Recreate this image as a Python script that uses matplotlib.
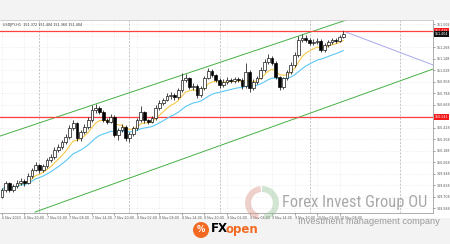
import matplotlib
matplotlib.use("Agg")
import matplotlib.pyplot as plt
from matplotlib.patches import Rectangle, Wedge, Circle
from matplotlib.transforms import IdentityTransform
from matplotlib import font_manager
import numpy as np
import pandas as pd

# ---------------- data ----------------
opens = [149.703, 149.776, 149.849, 149.776, 149.818, 149.849, 149.870, 149.849, 149.922, 149.984,
         150.037, 149.984, 150.026, 150.089, 150.120, 150.193, 150.224, 150.277, 150.329, 150.423,
         150.475, 150.318, 150.381, 150.433, 150.506, 150.611, 150.631, 150.590, 150.506, 150.485,
         150.538, 150.350, 150.402, 150.433, 150.318, 150.360, 150.423, 150.506, 150.590, 150.506,
         150.485, 150.527, 150.631, 150.684, 150.715, 150.757, 150.767, 150.746, 150.819, 150.924,
         150.944, 150.851, 150.861, 150.767, 150.840, 150.944, 151.018, 150.976, 150.924, 150.871,
         150.903, 150.924, 150.913, 150.934, 150.924, 150.861, 151.007, 150.840, 150.903, 150.944,
         151.028, 151.111, 151.153, 151.101, 150.955, 150.851, 150.944, 151.007, 151.080, 151.184,
         151.341, 151.362, 151.341, 151.310, 151.320, 151.331, 151.237, 151.289, 151.320, 151.341,
         151.331, 151.372]
closes = [149.776, 149.849, 149.776, 149.818, 149.849, 149.870, 149.849, 149.922, 149.984, 150.037,
          149.984, 150.026, 150.089, 150.120, 150.193, 150.224, 150.277, 150.329, 150.423, 150.475,
          150.318, 150.381, 150.433, 150.506, 150.611, 150.631, 150.590, 150.506, 150.485, 150.538,
          150.350, 150.402, 150.433, 150.318, 150.360, 150.423, 150.506, 150.590, 150.506, 150.485,
          150.527, 150.631, 150.684, 150.715, 150.757, 150.767, 150.746, 150.819, 150.924, 150.944,
          150.851, 150.861, 150.767, 150.840, 150.944, 151.018, 150.976, 150.924, 150.871, 150.903,
          150.924, 150.913, 150.934, 150.924, 150.861, 151.007, 150.840, 150.903, 150.944, 151.028,
          151.111, 151.153, 151.101, 150.955, 150.851, 150.944, 151.007, 151.080, 151.184, 151.341,
          151.362, 151.341, 151.310, 151.320, 151.331, 151.237, 151.289, 151.320, 151.341, 151.331,
          151.372, 151.404]
highs = [149.800, 149.870, 149.860, 149.840, 149.880, 149.900, 149.890, 149.950, 150.010, 150.070,
         150.050, 150.050, 150.110, 150.150, 150.220, 150.260, 150.300, 150.360, 150.450, 150.510,
         150.490, 150.400, 150.460, 150.540, 150.660, 150.670, 150.650, 150.610, 150.530, 150.570,
         150.560, 150.420, 150.460, 150.450, 150.380, 150.440, 150.530, 150.650, 150.600, 150.520,
         150.550, 150.660, 150.710, 150.740, 150.790, 150.800, 150.790, 150.840, 151.000, 150.990,
         150.960, 150.890, 150.880, 150.860, 150.970, 151.050, 151.040, 150.990, 150.940, 150.930,
         150.950, 150.940, 150.960, 150.950, 150.940, 151.100, 151.030, 150.930, 150.970, 151.060,
         151.140, 151.200, 151.170, 151.120, 150.970, 150.960, 151.030, 151.110, 151.220, 151.380,
         151.400, 151.390, 151.360, 151.350, 151.360, 151.350, 151.310, 151.340, 151.360, 151.360,
         151.390, 151.440]
lows = [149.690, 149.760, 149.750, 149.760, 149.800, 149.830, 149.820, 149.835, 149.905, 149.970,
        149.950, 149.960, 150.010, 150.070, 150.100, 150.170, 150.200, 150.260, 150.310, 150.400,
        150.290, 150.290, 150.360, 150.410, 150.490, 150.580, 150.570, 150.490, 150.460, 150.470,
        150.330, 150.300, 150.380, 150.290, 150.280, 150.340, 150.400, 150.490, 150.480, 150.460,
        150.470, 150.510, 150.610, 150.660, 150.700, 150.730, 150.720, 150.730, 150.800, 150.900,
        150.830, 150.820, 150.740, 150.750, 150.820, 150.930, 150.950, 150.900, 150.840, 150.850,
        150.880, 150.890, 150.890, 150.900, 150.830, 150.840, 150.800, 150.820, 150.880, 150.930,
        151.010, 151.090, 151.080, 150.930, 150.820, 150.830, 150.920, 150.990, 151.060, 151.160,
        151.320, 151.320, 151.290, 151.290, 151.300, 151.220, 151.220, 151.270, 151.300, 151.310,
        151.320, 151.360]

grid_levels = [151.508, 151.388, 151.268, 151.148, 151.028, 150.908, 150.788, 150.668, 150.548,
               150.428, 150.308, 150.188, 150.068, 149.948, 149.828, 149.708, 149.588]
# labels hidden behind the price boxes in the reference are not shown
y_ticks = [151.508, 151.268, 151.148, 151.028, 150.908, 150.788, 150.668,
           150.428, 150.308, 150.188, 150.068, 149.948, 149.828, 149.708, 149.588]
x_labels = ["6 Nov 2023", "6 Nov 20:00", "7 Nov 02:00", "7 Nov 08:00", "7 Nov 14:00",
            "7 Nov 20:00", "8 Nov 02:00", "8 Nov 08:00", "8 Nov 14:00", "8 Nov 20:00",
            "9 Nov 02:00", "9 Nov 08:00", "9 Nov 14:00", "9 Nov 20:00", "10 Nov 02:00",
            "10 Nov 08:00"]
x_label_bars = [0, 6, 12, 18, 24, 30, 36, 42, 48, 54, 60, 66, 72, 78, 84, 90]
day_separators = [10, 34, 58, 82, 106]

resistance_hi = 151.438
resistance_lo = 150.541
upper_channel_x = [-0.5, 91.0]
upper_channel_y = [150.339, 151.539]
lower_channel_x = [8.8, 114.9]
lower_channel_y = [149.546, 151.038]
projection_x = [91.0, 115.0]
projection_y = [151.435, 151.080]
header = "USDJPY,H1  151.372 151.404 151.360 151.404"
watermark_1 = "Forex Invest Group OU"
watermark_2 = "Investment management company"

# ---------------- figure ----------------
W, H = 450, 244
fig = plt.figure(figsize=(W / 100, H / 100), dpi=100)
fig.patch.set_facecolor("#f3f3f3")
bg = Rectangle((0, H - 218), W, 218 - 20, transform=IdentityTransform(),
               facecolor="white", edgecolor="none", zorder=-10)
fig.patches.append(bg)

ax = fig.add_axes([0, (H - 213) / H, 433 / W, (213 - 20) / H])
ax.set_zorder(1)
ax.set_facecolor("white")
ax.set_xlim(-0.53, 114.93)
ax.set_ylim(149.536, 151.550)

idx = np.arange(len(closes))
o = np.array(opens); c = np.array(closes)
hi = np.array(highs); lo = np.array(lows)

# grid
for yv in grid_levels:
    ax.axhline(yv, color="#e6e6e6", lw=0.4, ls=(0, (2, 2)), zorder=0)
for xv in x_label_bars:
    ax.axvline(xv, color="#e6e6e6", lw=0.4, ls=(0, (2, 2)), zorder=0)
for xv in day_separators:
    ax.axvline(xv, color="#b0b0b0", lw=0.5, ls=(0, (3, 2)), zorder=0.5)

# channel
sl = (upper_channel_y[1] - upper_channel_y[0]) / (upper_channel_x[1] - upper_channel_x[0])
xe = np.array([upper_channel_x[0], 130.0])
ax.plot(xe, upper_channel_y[0] + sl * (xe - upper_channel_x[0]), color="#45b045", lw=0.7, zorder=2)
ax.plot(lower_channel_x, lower_channel_y, color="#45b045", lw=0.7, zorder=2)
ax.plot(projection_x, projection_y, color="#a9a9ee", lw=0.7, zorder=2)

# horizontal levels
ax.axhline(resistance_hi, color="#ff4040", lw=0.9, zorder=2)
ax.axhline(resistance_lo, color="#ff4040", lw=0.9, zorder=2)

# moving averages (indicators computed from the closes)
ma_fast = pd.Series(c).ewm(span=8, adjust=True).mean()
ma_slow = pd.Series(c).ewm(span=21, adjust=True).mean()
ax.plot(idx, ma_fast, color="#f7c948", lw=0.8, zorder=3)
ax.plot(idx, ma_slow, color="#5cc8f5", lw=0.8, zorder=3)

# candles
ax.vlines(idx, lo, hi, color="black", lw=0.5, zorder=4)
up = c >= o
body_lo = np.minimum(o, c)
body_h = np.maximum(np.abs(c - o), 0.004)
ax.bar(idx[up], body_h[up], bottom=body_lo[up], width=0.68, facecolor="white",
       edgecolor="black", linewidth=0.45, zorder=5)
ax.bar(idx[~up], body_h[~up], bottom=body_lo[~up], width=0.68, facecolor="black",
       edgecolor="black", linewidth=0.45, zorder=5)

# axes styling
ax.spines["left"].set_visible(False)
for s in ["right", "bottom", "top"]:
    ax.spines[s].set_color("#a0a0a0")
    ax.spines[s].set_linewidth(0.6)
ax.spines["top"].set_color("#c8c8c8")
ax.yaxis.tick_right()
ax.set_yticks(y_ticks)
ax.set_yticklabels([f"{v:.3f}" for v in y_ticks])
ax.tick_params(axis="y", labelsize=2.3, colors="#555555", length=1.2, width=0.4, pad=1.2)
ax.set_xticks(x_label_bars)
ax.set_xticklabels(x_labels, ha="left")
ax.tick_params(axis="x", labelsize=2.3, colors="#555555", length=1.2, width=0.4, pad=0.8)

ax.text(0.008, 0.985, header, transform=ax.transAxes, fontsize=2.4, color="#333333",
        va="top", ha="left")

# right-side price boxes
def price_box(val, fc):
    ax.text(1.004, val, f"{val:.3f}", transform=ax.get_yaxis_transform(), fontsize=2.3,
            color="white", va="center", ha="left",
            bbox=dict(boxstyle="square,pad=0.3", fc=fc, ec="none"), zorder=10, clip_on=False)
price_box(resistance_hi, "#f01818")
price_box(closes[-1], "#111111")
price_box(resistance_lo, "#f01818")

# watermark
def pick_family(names):
    for n in names:
        try:
            font_manager.findfont(font_manager.FontProperties(family=n), fallback_to_default=False)
            return n
        except Exception:
            continue
    return "DejaVu Sans"

narrow = pick_family(["Liberation Sans Narrow", "DejaVu Sans Condensed", "Roboto Condensed",
                      "Liberation Sans"])
regular = pick_family(["Liberation Sans", "DejaVu Sans"])

renderer = fig.canvas.get_renderer()

def fitted_text(x0, x1, yc, s, family, size, **kw):
    t = fig.text(x0 / W, 1 - yc / H, s, fontsize=size, family=family, ha="left",
                 va="center", **kw)
    wpx = t.get_window_extent(renderer).width
    t.set_fontsize(size * (x1 - x0) / wpx)
    return t

fitted_text(282, 428, 202, watermark_1, narrow, 14, color="#8c8c8c", alpha=0.75, zorder=20)
fitted_text(298, 440, 221.5, watermark_2, regular, 7, color="#8c8c8c", alpha=0.85, zorder=20)

fig.patches.append(Wedge((262, H - 203), 17, 95, 255, width=6, transform=IdentityTransform(),
                         facecolor="#d99a8a", alpha=0.45, edgecolor="none", zorder=19))
fig.patches.append(Wedge((262, H - 203), 17, -80, 90, width=6, transform=IdentityTransform(),
                         facecolor="#9cc49c", alpha=0.45, edgecolor="none", zorder=19))

# FXOpen logo
fig.patches.append(Circle((201, H - 230), 8, transform=IdentityTransform(),
                          facecolor="#f26a21", edgecolor="none", zorder=21))
fig.text(201 / W, 1 - 230 / H, "%", fontsize=6, color="white", ha="center", va="center",
         weight="bold", zorder=22)
fig.text(211 / W, 1 - 229 / H, "FX", fontsize=8.5, color="black", ha="left", va="center",
         weight="bold", zorder=22)
fig.text(225 / W, 1 - 229 / H, "open", fontsize=8.5, color="#f26a21", ha="left", va="center",
         weight="bold", zorder=22)

fig.savefig("out.png", dpi=100, facecolor=fig.get_facecolor())
